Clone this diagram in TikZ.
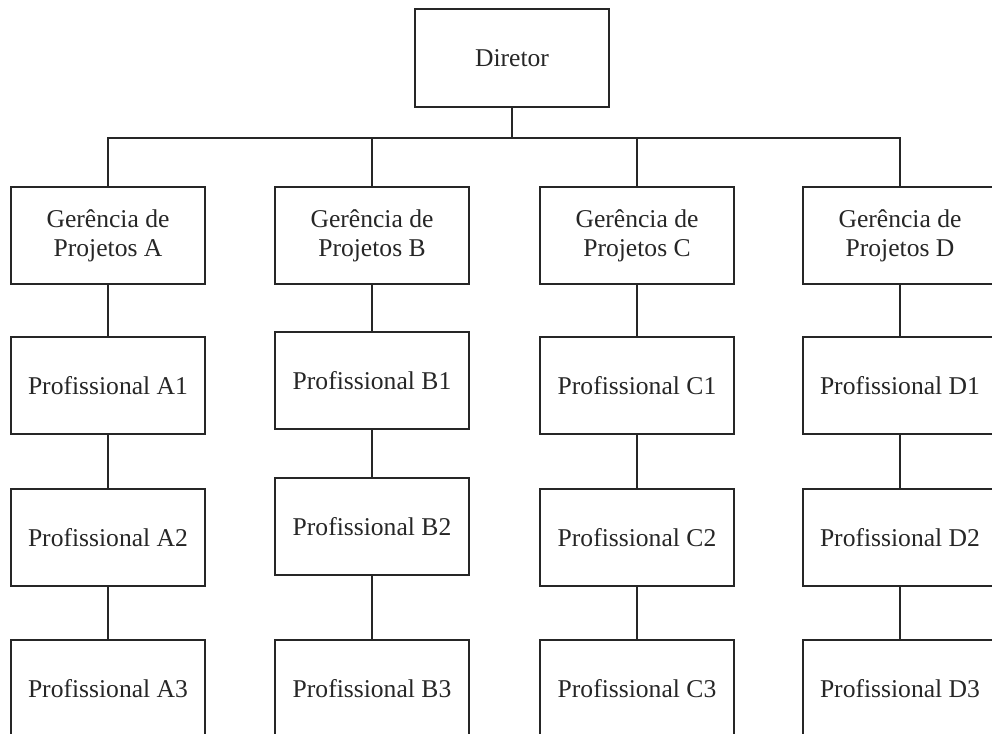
\documentclass[tikz,border=0pt]{standalone}
\usepackage{fontspec}
\setmainfont{Liberation Serif}
\begin{document}
\begin{tikzpicture}[x=1pt,y=-1pt,
  box/.style={draw=black!85, line width=1.3pt, rectangle, inner sep=0pt,
    minimum width=194pt, minimum height=97pt, align=center,
    text=black!85, font=\fontsize{25.6}{28.8}\selectfont},
  link/.style={draw=black!85, line width=1.3pt}]
\useasboundingbox (0,0) rectangle (992,733);
\clip (0,0) rectangle (992,733);

% top level
\node[box, minimum height=98pt] (dir) at (512,58) {Diretor};
\coordinate (bar) at (512,138);

% managers
\node[box] (mA) at (108,235.5) {Gerência de\\Projetos A};
\node[box] (mB) at (372,235.5) {Gerência de\\Projetos B};
\node[box] (mC) at (637,235.5) {Gerência de\\Projetos C};
\node[box] (mD) at (900,235.5) {Gerência de\\Projetos D};

% professionals
\node[box] (pA1) at (108,385.5) {Profissional A1};
\node[box] (pA2) at (108,537.5) {Profissional A2};
\node[box] (pA3) at (108,688.5) {Profissional A3};

\node[box] (pB1) at (372,380.5) {Profissional B1};
\node[box] (pB2) at (372,526.5) {Profissional B2};
\node[box] (pB3) at (372,688.5) {Profissional B3};

\node[box] (pC1) at (637,385.5) {Profissional C1};
\node[box] (pC2) at (637,537.5) {Profissional C2};
\node[box] (pC3) at (637,688.5) {Profissional C3};

\node[box] (pD1) at (900,385.5) {Profissional D1};
\node[box] (pD2) at (900,537.5) {Profissional D2};
\node[box] (pD3) at (900,688.5) {Profissional D3};

% connectors
\draw[link] (dir.south) -- (bar);
\foreach \m in {mA,mB,mC,mD}
  \draw[link] (bar) -| (\m.north);
\foreach \c in {A,B,C,D} {
  \draw[link] (m\c.south) -- (p\c1.north);
  \draw[link] (p\c1.south) -- (p\c2.north);
  \draw[link] (p\c2.south) -- (p\c3.north);
}
\end{tikzpicture}
\end{document}
